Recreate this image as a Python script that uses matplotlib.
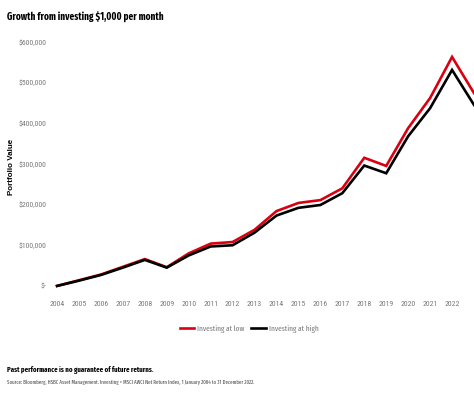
import matplotlib.pyplot as plt
from matplotlib.ticker import FuncFormatter

# data (last point = end of 2022)
years = [2004, 2005, 2006, 2007, 2008, 2009, 2010, 2011, 2012, 2013,
         2014, 2015, 2016, 2017, 2018, 2019, 2020, 2021, 2022, 2023]
invest_low = [0, 14000, 28000, 47000, 66000, 46000, 80000, 104000, 108000, 138000,
              184000, 204000, 211000, 240000, 315000, 295000, 388000, 462000, 563000, 474000]
invest_high = [0, 13000, 27000, 45000, 64000, 45000, 75000, 97000, 100000, 131000,
               173000, 192000, 199000, 228000, 296000, 277000, 368000, 437000, 531000, 445000]
tick_years = list(range(2004, 2023))
y_ticks = [0, 100000, 200000, 300000, 400000, 500000, 600000]

RED = "#db0011"
GREY = "#7a7a7a"
NARROW = ["Fira Sans Extra Condensed", "Roboto Condensed", "DejaVu Sans"]
TICKFONT = ["Roboto Condensed", "DejaVu Sans"]  # lining digits, no jumping labels

fig = plt.figure(figsize=(4.74, 3.95), dpi=100)
ax = fig.add_axes([52 / 474, 1 - 290 / 395, 422 / 474, 252.2 / 395])

ax.plot(years, invest_low, color=RED, lw=1.9, label="Investing at low", solid_joinstyle="miter")
ax.plot(years, invest_high, color="black", lw=1.9, label="Investing at high", solid_joinstyle="miter")

ax.set_xlim(2003.77, 2023)
ax.set_ylim(-10000, 610000)
ax.set_xticks(tick_years)
ax.set_yticks(y_ticks)

def money(v, pos):
    if v == 0:
        return "$-"
    return "${:,.0f}".format(v)

ax.yaxis.set_major_formatter(FuncFormatter(money))
ax.tick_params(length=0, labelcolor=GREY, labelsize=5.6)
ax.tick_params(axis="x", pad=8)
ax.tick_params(axis="y", pad=4)
for lab in ax.get_xticklabels() + ax.get_yticklabels():
    lab.set_family(TICKFONT)
for s in ax.spines.values():
    s.set_visible(False)

fig.text(12 / 474, 1 - 167 / 395, "Portfolio Value", rotation=90, fontsize=5.8,
         fontweight="bold", ha="center", va="center", family=["Liberation Sans", "DejaVu Sans"])

fig.text(7 / 474, 1 - 17 / 395, "Growth from investing $1,000 per month", fontsize=7.2,
         fontweight="bold", ha="left", va="center", family=NARROW)

leg = fig.legend(loc="center", bbox_to_anchor=(249 / 474, 1 - 329 / 395), ncol=2, frameon=False,
                 prop={"family": NARROW, "size": 5.7}, handlelength=1.8,
                 columnspacing=0.9, handletextpad=0.4)
for t in leg.get_texts():
    t.set_color(GREY)

fig.text(7 / 474, 1 - 370 / 395, "Past performance is no guarantee of future returns.",
         fontsize=5.3, fontweight="bold", ha="left", va="center", family=NARROW)
fig.text(7 / 474, 1 - 382 / 395,
         "Source: Bloomberg, HSBC Asset Management. Investing = MSCI AWCI Net Return Index, 1 January 2004 to 31 December 2022.",
         fontsize=3.85, color="#444444", ha="left", va="center", family=NARROW)

fig.savefig("out.png", dpi=100)
